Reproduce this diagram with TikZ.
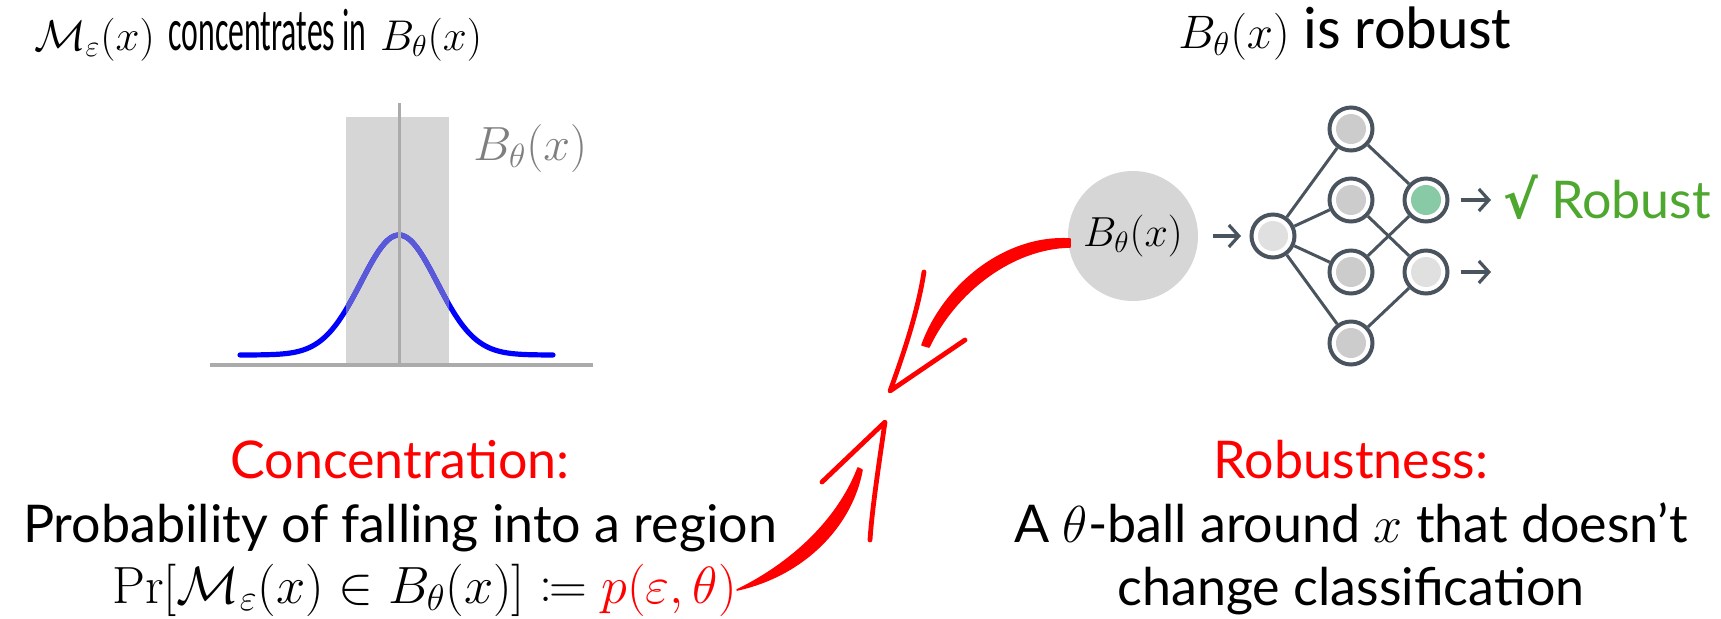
\RequirePackage{fix-cm}
\documentclass[tikz,border=0pt]{standalone}
\usepackage{mathtools}
\usepackage[no-math]{fontspec}
\setmainfont{Lato}
\newfontfamily\titlefont{Carlito}
\newfontfamily\condfont[FakeStretch=0.53]{Carlito}
\newfontfamily\symfont{DejaVu Sans}
\usetikzlibrary{arrows.meta}
\definecolor{ballgray}{HTML}{D6D6D6}
\definecolor{axisgray}{HTML}{ABABAB}
\definecolor{labelgray}{HTML}{7F7F7F}
\definecolor{curveblue}{HTML}{0000FF}
\definecolor{curvein}{HTML}{5A5AD9}
\definecolor{netdark}{HTML}{4A545E}
\definecolor{nodegray}{HTML}{CCCCCC}
\definecolor{nodelight}{HTML}{E0E0E0}
\definecolor{nodegreen}{HTML}{88C9A6}
\definecolor{okgreen}{HTML}{4EA72E}
\newcommand{\ttlmath}[2][23.5]{{\fontsize{#1}{28}\selectfont$#2$}}
\tikzset{
  neuron/.style ={draw=netdark, circle, line width=2pt, fill=white,
                  minimum size=21.5pt, inner sep=0pt,
                  path picture={\fill[#1] (path picture bounding box.center)
                  circle (7.5pt);}},
  neuron/.default=nodegray,
  netedge/.style={draw=netdark, line width=1.5pt},
  netarrow/.style={draw=netdark, line width=1.6pt,
                  -{Straight Barb[length=5pt, width=11pt]}},
  headtxt/.style={font=\titlefont\fontsize{30}{35}\selectfont, anchor=base,
                  inner sep=0pt},
  bodytxt/.style={font=\fontsize{26}{31}\selectfont, anchor=base,
                  inner sep=0pt},
  redtxt/.style ={bodytxt, text=red},
  redbarb/.style={draw=red, line width=2.4pt, line cap=round,
                  line join=round},
  bellcurve/.style={line width=2.6pt, line cap=round},
}

\begin{document}
\begin{tikzpicture}[x=0.5pt, y=-0.5pt]
  \useasboundingbox (0,0) rectangle (1721,618);

  % titles
  \node[headtxt] (ttlconc) at (258,50)
    {\ttlmath[21.5]{\mathcal{M}_\varepsilon(x)} {\condfont concentrates in}
     \ttlmath[21.5]{B_\theta(x)}};
  \node[headtxt] (ttlrob) at (1345,48) {\ttlmath{B_\theta(x)} is robust};

  % concentration sketch
  \fill[ballgray] (346,117) rectangle (449,364);
  \draw[curveblue, bellcurve] plot[domain=240:553, samples=90, smooth]
    (\x,{355-120*exp(-0.5*((\x-399)/38)*((\x-399)/38))});
  \begin{scope}
    \clip (346,117) rectangle (449,364);
    \draw[curvein, bellcurve] plot[domain=240:553, samples=90, smooth]
      (\x,{355-120*exp(-0.5*((\x-399)/38)*((\x-399)/38))});
  \end{scope}
  \draw[axisgray, line width=1.5pt] (399,103) -- (399,364);
  \draw[axisgray, line width=1.6pt] (210,365) -- (593,365);
  \node[anchor=base west, text=labelgray, inner sep=0pt,
        font=\fontsize{24}{29}\selectfont] (balllbl) at (473,160)
    {$B_\theta(x)$};

  % ball and network
  \node[circle, fill=ballgray, minimum size=65pt, inner sep=0pt,
        font=\fontsize{21}{25}\selectfont] (bball) at (1133,236)
    {$B_\theta(x)$};
  \node[neuron=nodelight] (in1) at (1273,236) {};
  \node[neuron] (h1) at (1351,129) {};
  \node[neuron] (h2) at (1351,200) {};
  \node[neuron] (h3) at (1351,272) {};
  \node[neuron] (h4) at (1351,343) {};
  \node[neuron=nodegreen] (o1) at (1426,200) {};
  \node[neuron=nodelight] (o2) at (1426,272) {};
  \foreach \h in {h1,h2,h3,h4}
    \draw[netedge] (in1) -- (\h);
  \draw[netedge] (h1) -- (o1);
  \draw[netedge] (h3) -- (o1);
  \draw[netedge] (h2) -- (o2);
  \draw[netedge] (h4) -- (o2);
  \draw[netarrow, shorten <=7.5pt, shorten >=4.25pt] (bball) -- (in1);
  \coordinate (o1out) at (1491,200);
  \coordinate (o2out) at (1491,272);
  \draw[netarrow, shorten <=5.5pt] (o1) -- (o1out);
  \draw[netarrow, shorten <=5.5pt] (o2) -- (o2out);
  \node[anchor=base west, inner sep=0pt, text=okgreen,
        font=\fontsize{26}{31}\selectfont] (robok) at (1503,218)
    {{\symfont\bfseries √} Robust};

  % hand-drawn red arrows
  \filldraw[red, line width=0.8pt, line join=round]
    (1070,239) .. controls (1008,235) and (945,282) .. (922,345)
    -- (929,347) .. controls (955,292) and (1012,248) .. (1070,247) -- cycle;
  \draw[redbarb] (924,272) .. controls (918,310) and (905,350) .. (890,391)
    -- (965,340);
  \filldraw[red, line width=0.8pt, line join=round]
    (737,590) .. controls (798,560) and (840,515) .. (858,468)
    -- (862,470) .. controls (852,525) and (805,575) .. (737,590) -- cycle;
  \draw[redbarb] (822,482) -- (885,422)
    .. controls (878,470) and (872,510) .. (870,540);

  % captions
  \node[redtxt] (conchead) at (400,478) {Concentration:};
  \node[bodytxt] (concline) at (400,542)
    {Probability of falling into a region};
  \node[bodytxt, anchor=base west, font=\fontsize{26.2}{31}\selectfont]
    (concmath) at (112,603)
    {$\Pr[\mathcal{M}_\varepsilon(x)\in B_\theta(x)] \coloneqq
     {\color{red}p(\varepsilon,\theta)}$};
  \node[redtxt] (robhead) at (1351,478) {Robustness:};
  \node[bodytxt] (robline) at (1351,542)
    {A $\theta$-ball around $x$ that doesn’t};
  \node[bodytxt] (robline2) at (1351,605) {change classification};
\end{tikzpicture}
\end{document}
